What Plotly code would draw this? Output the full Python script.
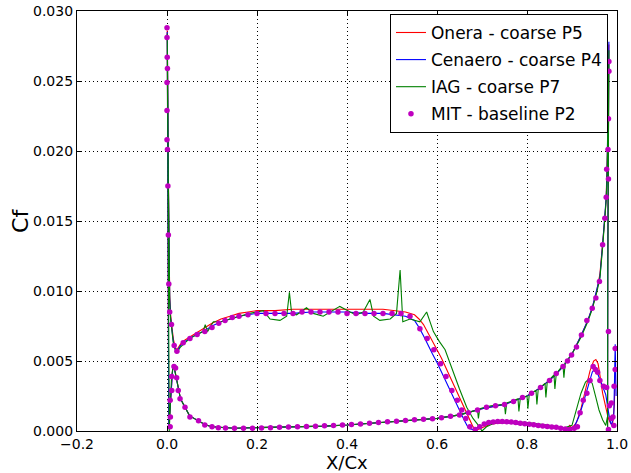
import plotly.graph_objects as go

# ---------------- Onera - coarse P5 ----------------
onera_ss_x = [0.0005, 0.001, 0.002, 0.003, 0.004, 0.006, 0.008, 0.010, 0.014, 0.018, 0.022, 0.03, 0.04, 0.05,
              0.065, 0.08, 0.10, 0.12, 0.14, 0.16, 0.18, 0.20, 0.24, 0.28, 0.32, 0.36, 0.40, 0.44, 0.48, 0.51,
              0.53, 0.55, 0.56, 0.57, 0.58, 0.59, 0.60, 0.61, 0.62, 0.63, 0.64, 0.65, 0.66, 0.67, 0.68, 0.69,
              0.70, 0.72, 0.75, 0.78, 0.81, 0.84, 0.87, 0.89, 0.895, 0.90, 0.91, 0.92, 0.93, 0.94, 0.948,
              0.953, 0.958, 0.963, 0.968, 0.975, 0.98, 0.985, 0.99, 0.994, 0.997]
onera_ss_cf = [0.0286, 0.0272, 0.0232, 0.0182, 0.0137, 0.0097, 0.0083, 0.0077, 0.0066, 0.0060, 0.0058, 0.0062,
               0.0065, 0.0067, 0.0070, 0.0073, 0.0077, 0.0080, 0.0082, 0.0084, 0.0085, 0.0086, 0.0086, 0.0087,
               0.0087, 0.0087, 0.0087, 0.0087, 0.0087, 0.0086, 0.0085, 0.0083, 0.0080, 0.0076, 0.0070, 0.0064,
               0.0058, 0.0052, 0.0046, 0.0039, 0.0032, 0.0025, 0.0017, 0.0010, 0.0003, 0.0001, 0.0002, 0.0005,
               0.0006, 0.0005, 0.0004, 0.0003, 0.0002, 0.0002, 0.0004, 0.0002, 0.0006, 0.0016, 0.0030, 0.0043,
               0.0050, 0.0051, 0.0048, 0.0038, 0.0027, 0.0018, 0.0010, 0.0006, 0.0004, 0.0018, 0.0050]
onera_ps_x = [0.004, 0.006, 0.008, 0.010, 0.013, 0.016, 0.020, 0.025, 0.03, 0.04, 0.05, 0.06, 0.07, 0.085,
              0.10, 0.12, 0.15, 0.20, 0.25, 0.30, 0.35, 0.40, 0.45, 0.50, 0.55, 0.60, 0.65, 0.70, 0.75, 0.80,
              0.83, 0.86, 0.88, 0.90, 0.92, 0.935, 0.945, 0.955, 0.962, 0.968, 0.973, 0.976, 0.978, 0.980,
              0.981, 0.982, 0.9795, 0.979]
onera_ps_cf = [0.0002, 0.0012, 0.0029, 0.0040, 0.0047, 0.0046, 0.0039, 0.0030, 0.0023, 0.0017, 0.0011,
               0.0009, 0.0007, 0.00045, 0.0003, 0.00024, 0.0002, 0.00025, 0.00027, 0.0003, 0.00035, 0.00043,
               0.00055, 0.0007, 0.00082, 0.0009, 0.00115, 0.0016, 0.0019, 0.0025, 0.0031, 0.0039, 0.0046,
               0.0055, 0.0068, 0.0079, 0.0088, 0.0100, 0.0112, 0.0133, 0.0152, 0.0167, 0.0187, 0.0215, 0.0250,
               0.0276, 0.0120, 0.0003]

# ---------------- Cenaero - coarse P4 ----------------
cenaero_ss_x = [0.0005, 0.001, 0.002, 0.003, 0.004, 0.006, 0.008, 0.010, 0.014, 0.018, 0.022, 0.03, 0.04,
                0.05, 0.065, 0.08, 0.10, 0.12, 0.14, 0.16, 0.18, 0.20, 0.24, 0.28, 0.32, 0.36, 0.40, 0.44,
                0.48, 0.51, 0.53, 0.55, 0.56, 0.57, 0.58, 0.59, 0.60, 0.61, 0.62, 0.63, 0.64, 0.65, 0.66,
                0.67, 0.68, 0.70, 0.72, 0.75, 0.78, 0.81, 0.84, 0.87, 0.89, 0.905, 0.915, 0.925, 0.935,
                0.945, 0.952, 0.96, 0.968, 0.975, 0.98, 0.984, 0.988, 0.993, 0.996, 0.998]
cenaero_ss_cf = [0.0285, 0.0270, 0.0230, 0.0180, 0.0135, 0.0095, 0.0081, 0.0075, 0.0064, 0.0059, 0.0057,
                 0.0061, 0.0064, 0.0066, 0.0069, 0.0071, 0.0075, 0.0078, 0.0080, 0.0082, 0.0083, 0.0084,
                 0.0084, 0.0084, 0.0085, 0.0085, 0.0085, 0.0084, 0.0084, 0.0083, 0.0082, 0.0079, 0.0074,
                 0.0068, 0.0062, 0.0055, 0.0049, 0.0042, 0.0036, 0.0029, 0.0022, 0.0015, 0.0008, 0.0002,
                 0.0001, 0.0004, 0.0006, 0.0006, 0.0005, 0.0004, 0.0003, 0.0002, 0.0001, 0.0003, 0.0010,
                 0.0020, 0.0030, 0.0042, 0.0045, 0.0038, 0.0032, 0.0026, 0.0015, 0.0008, 0.0004, 0.0012,
                 0.0062, 0.0025]
cenaero_ps_x = [0.004, 0.006, 0.008, 0.010, 0.013, 0.016, 0.020, 0.025, 0.03, 0.04, 0.05, 0.06, 0.07, 0.085,
                0.10, 0.12, 0.15, 0.20, 0.25, 0.30, 0.35, 0.40, 0.45, 0.50, 0.55, 0.60, 0.65, 0.70, 0.75,
                0.80, 0.83, 0.86, 0.88, 0.90, 0.92, 0.935, 0.945, 0.955, 0.962, 0.968, 0.973, 0.976, 0.978,
                0.980, 0.981, 0.982, 0.9795, 0.979]
cenaero_ps_cf = [0.0002, 0.0012, 0.0028, 0.0039, 0.0046, 0.0045, 0.0039, 0.0030, 0.0023, 0.0017, 0.0011,
                 0.0009, 0.0007, 0.00045, 0.0003, 0.00024, 0.0002, 0.00024, 0.00026, 0.0003, 0.00035,
                 0.00043, 0.00055, 0.0007, 0.00082, 0.0009, 0.00115, 0.0016, 0.0019, 0.0025, 0.0031, 0.0039,
                 0.0046, 0.0055, 0.0068, 0.0079, 0.0088, 0.0100, 0.0110, 0.0133, 0.0152, 0.0167, 0.0185,
                 0.0220, 0.0260, 0.0278, 0.0120, 0.0003]

# ---------------- IAG - coarse P7 ----------------
iag_ss_x = [0.0005, 0.001, 0.002, 0.003, 0.004, 0.006, 0.008, 0.010, 0.014, 0.018, 0.022, 0.03, 0.05, 0.08,
            0.085, 0.09, 0.103, 0.12, 0.14, 0.184, 0.214, 0.229, 0.251, 0.266, 0.272, 0.277, 0.288, 0.31,
            0.325, 0.347, 0.384, 0.407, 0.42, 0.436, 0.451, 0.459, 0.473, 0.496, 0.51, 0.518, 0.524, 0.54,
            0.562, 0.577, 0.592, 0.605, 0.618, 0.636, 0.65, 0.666, 0.68, 0.692, 0.70, 0.71, 0.73, 0.76,
            0.80, 0.85, 0.88, 0.90, 0.91, 0.92, 0.93, 0.937, 0.945, 0.953, 0.96, 0.968, 0.975, 0.98]
iag_ss_cf = [0.0284, 0.0268, 0.0228, 0.0178, 0.0133, 0.0093, 0.0080, 0.0074, 0.0063, 0.0058, 0.0056, 0.0060,
             0.0066, 0.0071, 0.0076, 0.0071, 0.0078, 0.0078, 0.0080, 0.0084, 0.0086, 0.0080, 0.0079, 0.0082,
             0.0099, 0.0084, 0.0083, 0.0088, 0.0084, 0.0082, 0.0089, 0.0085, 0.0083, 0.0085, 0.0094, 0.0082,
             0.0079, 0.0080, 0.0084, 0.0115, 0.0078, 0.0080, 0.0078, 0.0085, 0.0071, 0.0064, 0.0058, 0.0042,
             0.0030, 0.0017, 0.0009, 0.0004, 0.0000, 0.0003, 0.0006, 0.0007, 0.0006, 0.0004, 0.0002, 0.0004,
             0.0015, 0.0027, 0.0035, 0.0037, 0.0034, 0.0024, 0.0015, 0.0008, 0.0004, 0.0012]
iag_ps_x = [0.005, 0.006, 0.008, 0.010, 0.013, 0.016, 0.020, 0.025, 0.03, 0.04, 0.05, 0.06, 0.07, 0.085, 0.10,
            0.12, 0.15, 0.20, 0.25, 0.30, 0.35, 0.40, 0.45, 0.50, 0.55, 0.60, 0.65, 0.69, 0.692, 0.695, 0.72,
            0.75, 0.752, 0.755, 0.78, 0.782, 0.785, 0.80, 0.802, 0.805, 0.82, 0.822, 0.825, 0.84, 0.842,
            0.845, 0.86, 0.862, 0.865, 0.88, 0.882, 0.885, 0.90, 0.92, 0.935, 0.945, 0.955, 0.962, 0.968,
            0.973, 0.976, 0.978, 0.980, 0.981, 0.982, 0.9795, 0.979]
iag_ps_cf = [0.0000, 0.0011, 0.0027, 0.0038, 0.0045, 0.0045, 0.0039, 0.0030, 0.0023, 0.0017, 0.0011, 0.0009,
             0.0007, 0.00045, 0.0003, 0.00024, 0.0002, 0.00024, 0.00026, 0.0003, 0.00035, 0.00043, 0.00055,
             0.0007, 0.00082, 0.0009, 0.00115, 0.0015, 0.0009, 0.0016, 0.0018, 0.0019, 0.0012, 0.0020,
             0.0023, 0.0014, 0.0023, 0.0025, 0.0016, 0.0026, 0.0029, 0.0019, 0.0030, 0.0034, 0.0024, 0.0035,
             0.0040, 0.0030, 0.0041, 0.0047, 0.0038, 0.0049, 0.0055, 0.0067, 0.0078, 0.0087, 0.0099, 0.0109,
             0.0131, 0.0150, 0.0165, 0.0183, 0.0215, 0.0255, 0.0272, 0.0110, 0.0003]

# ---------------- MIT - baseline P2 ----------------
mit_ss_x = [0.0, 0.0, 0.0005, 0.001, 0.0, 0.0, 0.0, 0.001, 0.002, 0.003, 0.004, 0.006, 0.010, 0.016, 0.022,
            0.036, 0.051, 0.067, 0.084, 0.100, 0.115, 0.129, 0.145, 0.160, 0.180, 0.200, 0.220, 0.240, 0.260,
            0.280, 0.300, 0.320, 0.340, 0.360, 0.380, 0.400, 0.420, 0.440, 0.460, 0.480, 0.500, 0.520, 0.540,
            0.562, 0.578, 0.593, 0.608, 0.620, 0.633, 0.645, 0.655, 0.664, 0.673, 0.685, 0.695, 0.705, 0.715,
            0.725, 0.735, 0.745, 0.755, 0.765, 0.775, 0.785, 0.795, 0.805, 0.815, 0.825, 0.835, 0.845, 0.855,
            0.865, 0.875, 0.885, 0.895, 0.905, 0.912, 0.918, 0.925, 0.933, 0.940, 0.947, 0.952, 0.957, 0.962,
            0.970, 0.977, 0.983, 0.988, 0.993]
mit_ss_cf = [0.0288, 0.0281, 0.0267, 0.0259, 0.0249, 0.0229, 0.0208, 0.0201, 0.0175, 0.0140, 0.0105, 0.0085,
             0.0076, 0.0061, 0.0057, 0.0063, 0.0066, 0.0069, 0.0071, 0.0074, 0.0077, 0.0079, 0.0081, 0.0082,
             0.0083, 0.0084, 0.0084, 0.0084, 0.0084, 0.0084, 0.0085, 0.0085, 0.0085, 0.0085, 0.0085, 0.0084,
             0.0084, 0.0084, 0.0084, 0.0084, 0.0084, 0.0084, 0.0082, 0.0073, 0.0066, 0.0058, 0.0048, 0.0039,
             0.0029, 0.0022, 0.0015, 0.0009, 0.0003, 0.0001, 0.0003, 0.0005, 0.0006, 0.00065, 0.00067,
             0.00067, 0.00066, 0.00064, 0.0006, 0.00056, 0.00052, 0.00048, 0.00044, 0.0004, 0.00036,
             0.00032, 0.00028, 0.00026, 0.0002, 0.00015, 0.0001, 0.0002, 0.0003, 0.0013, 0.0022, 0.0027,
             0.0036, 0.0046, 0.0044, 0.0042, 0.0036, 0.0032, 0.0031, 0.0018, 0.0009, 0.0004]
mit_ps_x = [0.007, 0.0075, 0.007, 0.0105, 0.0105, 0.0155, 0.019, 0.0215, 0.025, 0.029, 0.040, 0.051, 0.070,
            0.084, 0.100, 0.114, 0.130, 0.150, 0.170, 0.190, 0.210, 0.230, 0.250, 0.270, 0.290, 0.310, 0.330,
            0.350, 0.370, 0.390, 0.410, 0.430, 0.450, 0.470, 0.490, 0.510, 0.530, 0.550, 0.570, 0.590, 0.610,
            0.630, 0.650, 0.670, 0.690, 0.710, 0.730, 0.750, 0.770, 0.790, 0.810, 0.830, 0.850, 0.865, 0.880,
            0.890, 0.899, 0.910, 0.921, 0.933, 0.945, 0.953, 0.961, 0.968, 0.973, 0.976, 0.977, 0.981, 0.980,
            0.981, 0.982, 0.982, 0.981, 0.996, 0.996, 0.9935, 0.9875, 0.991, 0.981]
mit_ps_cf = [0.0003, 0.0010, 0.0022, 0.0029, 0.0039, 0.0046, 0.0045, 0.0038, 0.0029, 0.0023, 0.0017, 0.0010,
             0.00074, 0.00043, 0.0003, 0.00024, 0.00022, 0.0002, 0.0002, 0.0002, 0.00022, 0.00024, 0.00026,
             0.00028, 0.0003, 0.00032, 0.00034, 0.00037, 0.0004, 0.00043, 0.00047, 0.0005, 0.00055, 0.0006,
             0.00066, 0.0007, 0.00075, 0.0008, 0.00084, 0.00088, 0.00095, 0.00105, 0.00115, 0.0013, 0.0015,
             0.0017, 0.0018, 0.0019, 0.0021, 0.0024, 0.0027, 0.0031, 0.0036, 0.0041, 0.0046, 0.0050, 0.00543,
             0.0060, 0.00686, 0.0079, 0.00876, 0.0095, 0.01067, 0.0133, 0.0152, 0.0167, 0.0187, 0.0180,
             0.0201, 0.0223, 0.0257, 0.0264, 0.0071, 0.0059, 0.0044, 0.0032, 0.0020, 0.0010, 0.0001]

series_names = ["Onera - coarse P5", "Cenaero - coarse P4", "IAG - coarse P7", "MIT - baseline P2"]
line_colors = ["#ff0000", "#0000ff", "#008000"]
mit_color = "#bf00bf"
x_label = "X/Cx"
y_label = "Cf"

FONT = "DejaVu Sans"


def surface_loop(ss_x, ss_cf, ps_x, ps_cf):
    """Walk the suction side from the trailing edge to the leading edge, then the pressure side back."""
    return list(reversed(ss_x)) + list(ps_x), list(reversed(ss_cf)) + list(ps_cf)


fig = go.Figure()

line_data = [
    (onera_ss_x, onera_ss_cf, onera_ps_x, onera_ps_cf),
    (cenaero_ss_x, cenaero_ss_cf, cenaero_ps_x, cenaero_ps_cf),
    (iag_ss_x, iag_ss_cf, iag_ps_x, iag_ps_cf),
]
for i, (sx, sc, px, pc) in enumerate(line_data):
    xs, cs = surface_loop(sx, sc, px, pc)
    fig.add_trace(go.Scatter(
        x=xs, y=cs, mode="lines", name=series_names[i], legendgroup=f"g{i}",
        line=dict(color=line_colors[i], width=1.1),
    ))

mx, mc = surface_loop(mit_ss_x, mit_ss_cf, mit_ps_x, mit_ps_cf)
fig.add_trace(go.Scatter(
    x=mx, y=mc, mode="markers", name=series_names[3], legendgroup="g3",
    marker=dict(color=mit_color, size=5.5, line=dict(width=0)),
))

axis_common = dict(
    showline=True, linecolor="black", linewidth=1.2, mirror="allticks",
    ticks="inside", ticklen=5, tickwidth=1, tickcolor="black",
    showgrid=True, gridcolor="black", gridwidth=0.8, griddash="1px,3px",
    zeroline=False, automargin=False,
    tickfont=dict(family=FONT, size=14, color="black"),
)

fig.update_xaxes(range=[-0.2, 1.0], dtick=0.2, tick0=-0.2, tickformat=".1f", **axis_common)
fig.update_yaxes(range=[0, 0.030], dtick=0.005, tick0=0, tickformat=".3f", **axis_common)

# Axis labels placed as paper-anchored text so they sit just clear of the tick labels
fig.add_annotation(
    text=x_label, xref="paper", yref="paper", x=0.5, y=-0.0488,
    xanchor="center", yanchor="top", showarrow=False, borderpad=0,
    font=dict(family=FONT, size=18, color="black"),
)
fig.add_annotation(
    text=y_label, xref="paper", yref="paper", x=-0.1056, y=0.5,
    xanchor="center", yanchor="middle", textangle=-90, showarrow=False, borderpad=0,
    font=dict(family=FONT, size=22, color="black"),
)

fig.update_layout(
    width=631, height=473,
    margin=dict(l=77, r=14, t=11, b=42),
    paper_bgcolor="white", plot_bgcolor="white",
    font=dict(family=FONT, color="black"),
    showlegend=True,
    legend=dict(
        x=0.9833, y=0.993, xanchor="right", yanchor="top",
        bgcolor="white", bordercolor="black", borderwidth=1,
        font=dict(family=FONT, size=17, color="black"),
        tracegroupgap=2, itemwidth=30,
    ),
)

fig.write_html("out.html")
